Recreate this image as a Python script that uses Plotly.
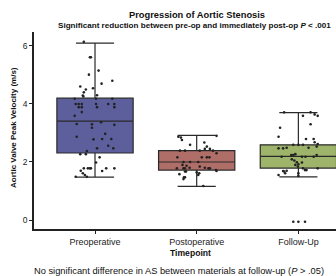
import plotly.graph_objects as go

categories = ["Preoperative", "Postoperative", "Follow-Up"]
box_colors = ["#5d5e9c", "#b06e68", "#9eb46a"]

q1 = [2.31, 1.72, 1.79]
median = [3.41, 2.00, 2.19]
q3 = [4.20, 2.39, 2.59]
lowerfence = [1.48, 1.16, 1.49]
upperfence = [6.10, 2.92, 3.70]

pre_off = [-0.11,-0.05,-0.04,-0.06,0.035,0.065,0.17,-0.145,-0.09,-0.11,-0.02,-0.12,-0.115,0.02,-0.20,0.01,0.17,-0.19,-0.16,-0.13,-0.16,-0.13,0.01,0.02,0.13,0.19,0.19,-0.13,-0.20,-0.18,-0.03,-0.03,0.06,0.19,-0.18,-0.015,0.07,0.16,0.10,0.13,0.18,0.02,-0.08,-0.145,-0.09,0.045,0.01,-0.11,-0.07,-0.05,-0.04,-0.14,-0.12,0.07,0.11,0.19,-0.19,-0.08,-0.10]
pre_val = [6.14,5.61,5.61,5.01,5.15,4.70,4.80,4.60,4.50,4.40,4.54,4.29,4.26,4.30,4.18,4.18,4.18,4.00,4.00,4.00,3.89,3.89,4.00,3.89,4.00,4.00,3.89,3.72,3.59,3.31,3.30,3.18,3.37,3.28,2.87,2.78,2.79,2.79,2.97,2.56,2.47,2.47,2.38,2.27,2.27,2.16,1.98,1.78,1.78,1.78,1.78,1.70,1.61,1.69,1.78,1.78,1.49,1.49,1.55]

post_off = [-0.18,-0.155,-0.145,0.195,-0.065,0.075,0.10,0.13,0.08,-0.165,-0.115,0.03,0.16,-0.19,0.05,0.10,0.125,0.195,-0.13,-0.065,0.015,-0.14,-0.10,-0.07,-0.13,-0.115,-0.195,0.03,0.08,0.115,0.13,0.19,0.195,-0.115,-0.105,0.0,0.025,0.015,-0.17,-0.125,-0.13,-0.115,0.065]
post_val = [2.87,2.84,2.76,2.90,2.59,2.67,2.53,2.45,2.45,2.39,2.39,2.39,2.39,2.16,2.16,2.16,2.16,2.30,2.00,2.00,2.00,1.90,1.87,1.80,1.78,1.78,1.78,1.84,1.80,1.78,1.78,1.72,1.69,1.67,1.67,1.64,1.61,1.55,1.58,1.47,1.41,1.47,1.17]

fu_off = [-0.14,0.045,0.12,0.16,0.19,0.12,-0.18,-0.195,0.075,0.15,0.16,0.19,-0.05,0.0,0.045,-0.195,-0.15,-0.115,0.10,0.18,-0.165,-0.07,-0.05,-0.03,0.035,0.07,0.15,0.18,-0.065,-0.04,-0.015,0.0,0.035,-0.03,-0.005,0.045,0.065,0.08,0.19,-0.15,-0.115,-0.195,-0.13,-0.14,0.0,0.0,-0.05,0.0,0.065]
fu_val = [3.71,3.59,3.71,3.64,3.59,3.30,3.18,2.87,2.79,2.79,2.68,2.62,2.59,2.59,2.59,2.47,2.47,2.49,2.49,2.53,2.18,2.24,2.24,2.27,2.18,2.18,2.18,2.24,2.09,2.05,1.99,1.92,1.98,1.90,1.84,1.78,1.72,1.72,1.78,1.69,1.70,1.55,1.61,1.67,1.61,1.52,-0.06,-0.06,-0.06]

yticks = [0, 2, 4, 6]

FONT = "Arial, Liberation Sans, sans-serif"
fig = go.Figure()

for i, cat in enumerate(categories):
    fig.add_trace(go.Box(
        x=[i], q1=[q1[i]], median=[median[i]], q3=[q3[i]],
        lowerfence=[lowerfence[i]], upperfence=[upperfence[i]],
        width=0.75, fillcolor=box_colors[i],
        line=dict(color="#2a2a2a", width=1.2),
        boxpoints=False, showlegend=False, hoverinfo="skip"))

for i, (offs, vals) in enumerate([(pre_off, pre_val), (post_off, post_val), (fu_off, fu_val)]):
    fig.add_trace(go.Scatter(
        x=[i + o for o in offs], y=vals, mode="markers",
        marker=dict(size=2.6, color="#222222"),
        showlegend=False, hoverinfo="skip"))

W, H = 336, 276
L, R, T, B = 34, 0, 32, 47
pw, ph = W - L - R, H - T - B

def px(x):
    return (x - L) / pw

def py(y):
    return (H - B - y) / ph

fig.update_layout(
    width=W, height=H,
    margin=dict(l=L, r=R, t=T, b=B, pad=0),
    paper_bgcolor="white", plot_bgcolor="white",
    font=dict(family=FONT, color="#222222"),
    xaxis=dict(type="linear", range=[-0.6, 2.37], tickmode="array",
               tickvals=[0, 1, 2], ticktext=categories,
               showgrid=False, zeroline=False, showline=True,
               linecolor="#222222", linewidth=1.5,
               ticks="outside", ticklen=3, tickcolor="#222222",
               tickfont=dict(size=9, family=FONT, color="#222222")),
    yaxis=dict(range=[-0.31, 6.48], tickvals=yticks,
               showgrid=False, zeroline=False, showline=True,
               linecolor="#222222", linewidth=1.5,
               ticks="outside", ticklen=3, tickcolor="#222222",
               tickfont=dict(size=8.5, family=FONT, color="#222222")),
)

ann = [
    dict(text="<b>Progression of Aortic Stenosis</b>", x=px(197), y=py(15), size=9.3),
    dict(text="<b>Significant reduction between pre-op and immediately post-op <i>P</i> &lt; .001</b>",
         x=px(195), y=py(25.5), size=8.1),
    dict(text="<b>Timepoint</b>", x=px(190), y=py(253), size=8.6),
    dict(text="No significant difference in AS between materials at follow-up (<i>P</i> &gt; .05)",
         x=px(179), y=py(270.5), size=9.3),
]
for a in ann:
    fig.add_annotation(text=a["text"], x=a["x"], y=a["y"], xref="paper", yref="paper",
                       xanchor="center", yanchor="middle", showarrow=False,
                       font=dict(size=a["size"], family=FONT, color="#111111"))

fig.add_annotation(text="<b>Aortic Valve Peak Velocity (m/s)</b>", x=px(13), y=py(128),
                   xref="paper", yref="paper", xanchor="center", yanchor="middle",
                   textangle=-90, showarrow=False,
                   font=dict(size=8, family=FONT, color="#111111"))

fig.write_html("out.html", config={"displayModeBar": False},
               post_script="document.body.style.margin='0';document.body.style.overflow='hidden';")
